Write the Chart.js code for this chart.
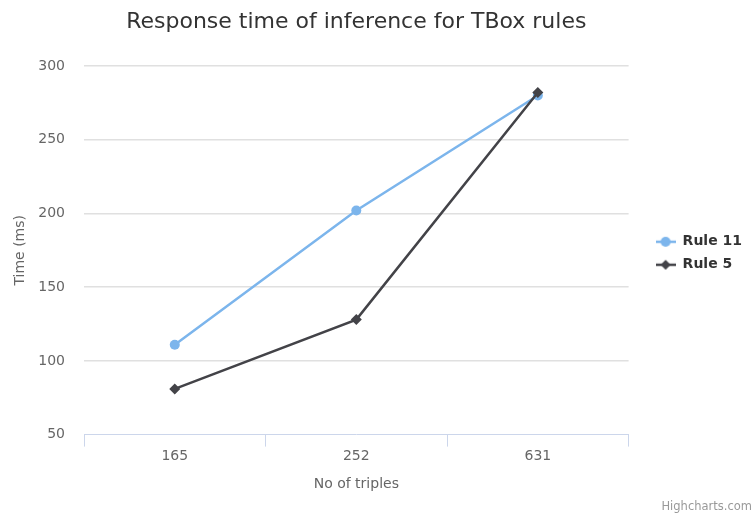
<!DOCTYPE html>
<html lang="en">
  <head>
    <meta charset="UTF-8" />
    <title>Response time of inference for TBox rules</title>
    <script src="https://cdn.jsdelivr.net/npm/chart.js"></script>
    <style>
      html, body { margin: 0; padding: 0; background: #fff; }
      #wrap { width: 754px; height: 514px; }
    </style>
  </head>
  <body>
    <div id="wrap"><canvas id="chart"></canvas></div>

    <script>
      const triples = ['165', '252', '631'];
      const rule11 = [111, 202, 280];
      const rule5 = [81, 128, 282];
      const yTicks = [50, 100, 150, 200, 250, 300];

      const FONT = "'DejaVu Sans', sans-serif";

      // little legend glyph: a short line with the series marker on it
      function legendIcon(color, shape) {
        const c = document.createElement('canvas');
        c.width = 20;
        c.height = 12;
        const g = c.getContext('2d');
        g.strokeStyle = color;
        g.lineWidth = 2.5;
        g.beginPath();
        g.moveTo(0, 6);
        g.lineTo(20, 6);
        g.stroke();
        g.fillStyle = color;
        g.beginPath();
        if (shape === 'circle') {
          g.arc(10, 6, 5, 0, Math.PI * 2);
        } else {
          g.moveTo(10, 1);
          g.lineTo(15, 6);
          g.lineTo(10, 11);
          g.lineTo(5, 6);
          g.closePath();
        }
        g.fill();
        return c;
      }

      const ctx = document.getElementById('chart').getContext('2d');
      const chart = new Chart(ctx, {
        type: 'line',
        data: {
          labels: triples,
          datasets: [
            {
              label: 'Rule 11',
              data: rule11,
              borderColor: '#7cb5ec',
              backgroundColor: '#7cb5ec',
              borderWidth: 2.5,
              pointStyle: 'circle',
              pointRadius: 5,
              pointBorderWidth: 0,
              order: 1,
            },
            {
              label: 'Rule 5',
              data: rule5,
              borderColor: '#434348',
              backgroundColor: '#434348',
              borderWidth: 2.5,
              pointStyle: 'rectRot',
              pointRadius: 5.5,
              pointBorderWidth: 0,
              order: 0,
            },
          ],
        },
        options: {
          responsive: true,
          maintainAspectRatio: false,
          animation: false,
          layout: { padding: { left: 0, right: 2, top: 0, bottom: 0 } },
          plugins: {
            title: {
              display: true,
              text: 'Response time of inference for TBox rules',
              color: '#333333',
              fullSize: false,
              font: { family: FONT, size: 22, weight: 'normal' },
              padding: { top: 9, bottom: 30.6 },
            },
            subtitle: {
              display: true,
              position: 'bottom',
              align: 'end',
              text: 'Highcharts.com',
              color: '#999999',
              font: { family: FONT, size: 11.5, weight: 'normal' },
              padding: { top: 3, bottom: 0 },
            },
            legend: {
              position: 'right',
              fullSize: false,
              // empty title only nudges the items down a little
              title: { display: true, text: '', padding: 0, font: { size: 5 } },
              labels: {
                usePointStyle: true,
                pointStyleWidth: 20,
                padding: 9,
                color: '#333333',
                font: { family: FONT, size: 14, weight: 'bold' },
                sort: (a, b) => a.datasetIndex - b.datasetIndex,
                generateLabels: (ch) =>
                  ch.data.datasets.map((ds, i) => ({
                    text: ds.label,
                    datasetIndex: i,
                    fontColor: '#333333',
                    pointStyle: legendIcon(ds.borderColor, ds.pointStyle === 'circle' ? 'circle' : 'diamond'),
                    lineWidth: 0,
                    strokeStyle: 'transparent',
                    fillStyle: 'transparent',
                    hidden: !ch.isDatasetVisible(i),
                  })),
              },
            },
            tooltip: { enabled: false },
          },
          scales: {
            x: {
              type: 'category',
              offset: true,
              grid: {
                offset: true,
                drawOnChartArea: false,
                drawTicks: true,
                tickLength: 12,
                color: '#ccd6eb',
              },
              border: { display: true, color: '#ccd6eb', width: 1 },
              ticks: {
                color: '#666666',
                padding: 1,
                font: { family: FONT, size: 14 },
              },
              title: {
                display: true,
                text: 'No of triples',
                color: '#666666',
                font: { family: FONT, size: 14 },
                padding: { top: 11, bottom: 4 },
              },
            },
            y: {
              min: 50,
              max: 300,
              afterBuildTicks: (scale) => {
                scale.ticks = yTicks.map((v) => ({ value: v }));
              },
              afterFit: (scale) => {
                scale.width = 84;
              },
              grid: {
                drawTicks: false,
                lineWidth: 1.5,
                color: (c) => (c.tick && c.tick.value === 50 ? 'rgba(0,0,0,0)' : '#e0e0e0'),
              },
              border: { display: false },
              ticks: {
                color: '#666666',
                padding: 19,
                font: { family: FONT, size: 14 },
              },
              title: {
                display: true,
                text: 'Time (ms)',
                color: '#666666',
                font: { family: FONT, size: 14 },
                padding: { top: 11.6, bottom: 0 },
              },
            },
            // spacer between the plot and the legend
            gap: {
              type: 'linear',
              position: 'right',
              display: true,
              grid: { display: false },
              border: { display: false },
              ticks: { display: false },
              afterFit: (scale) => {
                scale.width = 18;
              },
            },
          },
        },
      });
    </script>
  </body>
</html>
